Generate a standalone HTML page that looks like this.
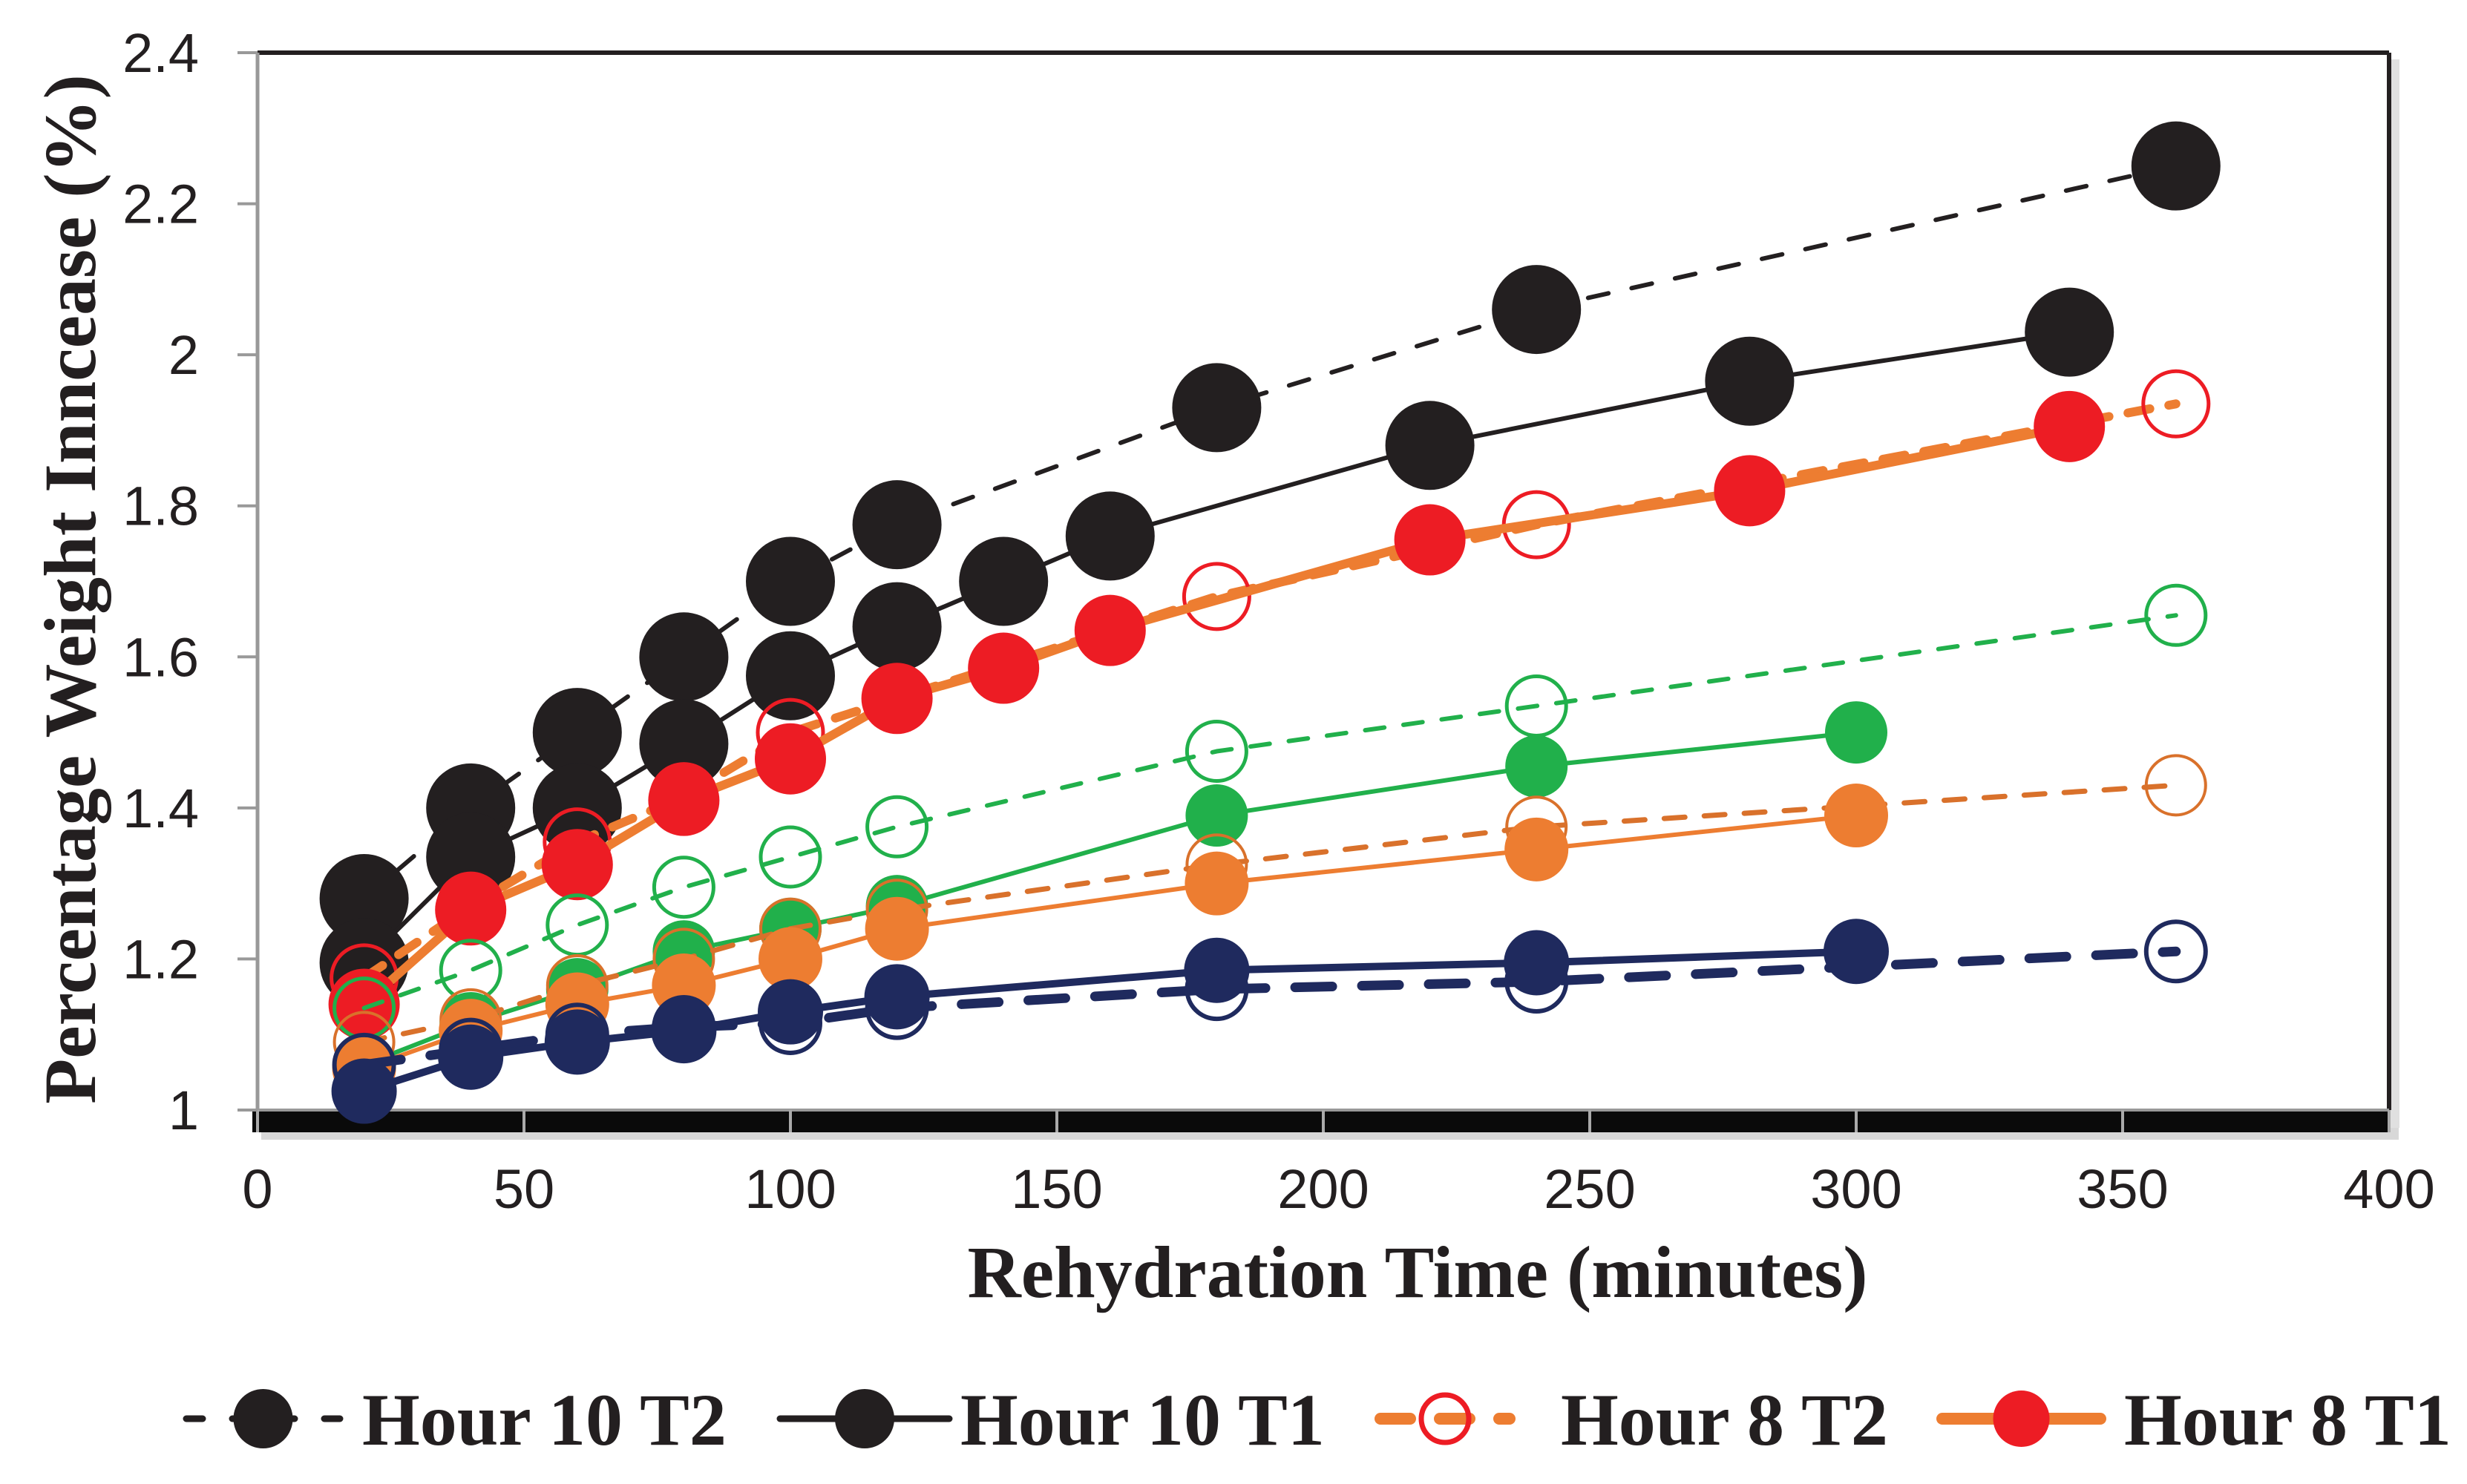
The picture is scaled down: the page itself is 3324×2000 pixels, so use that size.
<!DOCTYPE html>
<html><head><meta charset="utf-8">
<style>
html,body{margin:0;padding:0;background:#fff;}
svg{display:block;}
.tk{font-family:"Liberation Sans Narrow","Liberation Sans",sans-serif;font-size:74px;fill:#231f20;}
.ttl{font-family:"Liberation Serif",serif;font-weight:bold;font-size:100px;fill:#231f20;}
</style></head>
<body>
<svg id="chart" width="3324" height="2000" viewBox="0 0 3324 2000" xmlns="http://www.w3.org/2000/svg">
<rect x="0" y="0" width="3324" height="2000" fill="#fff"/>
<g id="frame">
  <rect x="352" y="1496" width="2880" height="40" fill="#d8d8d8"/>
  <rect x="340" y="1496" width="2880" height="30" fill="#0a0a0a"/>
  <rect x="3219" y="80" width="14" height="1440" fill="#e0e0e0"/>
  <rect x="347" y="71" width="2872" height="1425" fill="#fff" stroke="none"/>
  <line x1="347" y1="71" x2="3219" y2="71" stroke="#231f20" stroke-width="6"/>
  <line x1="3219" y1="71" x2="3219" y2="1496" stroke="#231f20" stroke-width="6"/>
  <line x1="347" y1="71" x2="347" y2="1496" stroke="#999" stroke-width="5"/>
  <line x1="347" y1="1496" x2="3219" y2="1496" stroke="#999" stroke-width="4"/>
</g>
<g id="axes"></g>
<g id="series"></g>
<text class="ttl" x="1910" y="1748" text-anchor="middle">Rehydration Time (minutes)</text>
<text class="ttl" transform="translate(128,794) rotate(-90)" text-anchor="middle">Percentage Weight Inncease (%)</text>
<g id="legend"></g>
</svg>
<script>
const xTicks = [0,50,100,150,200,250,300,350,400];
const yTicks = [1,1.2,1.4,1.6,1.8,2,2.2,2.4];
const yTickLabels = ["1","1.2","1.4","1.6","1.8","2","2.2","2.4"];

const h10t2X = [20,40,60,80,100,120,180,240,360];
const h10t2Y = [1.28,1.40,1.50,1.60,1.70,1.775,1.93,2.06,2.25];
const h10t1X = [20,40,60,80,100,120,140,160,220,280,340];
const h10t1Y = [1.195,1.335,1.40,1.485,1.575,1.64,1.70,1.76,1.88,1.965,2.03];
const h8t2X = [20,40,60,80,100,120,180,240,360];
const h8t2Y = [1.175,1.27,1.355,1.415,1.50,1.545,1.68,1.775,1.935];
const h8t1X = [20,40,60,80,100,120,140,160,220,280,340];
const h8t1Y = [1.14,1.265,1.325,1.41,1.465,1.545,1.585,1.635,1.755,1.82,1.905];
const gT2X = [20,40,60,80,100,120,180,240,360];
const gT2Y = [1.135,1.185,1.245,1.295,1.335,1.375,1.475,1.535,1.655];
const gT1X = [20,40,60,80,100,120,180,240,300];
const gT1Y = [1.06,1.115,1.16,1.21,1.24,1.27,1.39,1.455,1.50];
const oT2X = [20,40,60,80,100,120,180,240,360];
const oT2Y = [1.09,1.12,1.165,1.20,1.24,1.265,1.325,1.375,1.43];
const oT1X = [20,40,60,80,100,120,180,240,300];
const oT1Y = [1.055,1.105,1.14,1.165,1.20,1.24,1.30,1.345,1.39];
const nT2X = [20,40,60,80,100,120,180,240,360];
const nT2Y = [1.06,1.08,1.10,1.11,1.115,1.135,1.16,1.17,1.21];
const nT1X = [20,40,60,80,100,120,180,240,300];
const nT1Y = [1.025,1.07,1.09,1.105,1.13,1.15,1.185,1.195,1.21];

const NS="http://www.w3.org/2000/svg";
function X(v){return 347+(v-0)/400*2872;}
function Y(v){return 1496-(v-1)/1.4*1425;}
function mk(tag,attrs,parent){const e=document.createElementNS(NS,tag);for(const k in attrs)e.setAttribute(k,attrs[k]);parent.appendChild(e);return e;}

const axes=document.getElementById('axes');
xTicks.forEach(t=>{
  const l=mk('line',{x1:X(t),y1:1496,x2:X(t),y2:1526,stroke:'#aaa','stroke-width':4},axes);
  
  
  const tx=mk('text',{x:X(t),y:1628,'text-anchor':'middle',class:'tk'},axes);
  tx.textContent=t;
  
  
});
yTicks.forEach((t,i)=>{
  const l=mk('line',{x1:320,y1:Y(t),x2:347,y2:Y(t),stroke:'#999','stroke-width':4},axes);
  
  
  const tx=mk('text',{x:268,y:Y(t)+26,'text-anchor':'end',class:'tk'},axes);
  tx.textContent=yTickLabels[i];
  
  
});

const seriesG=document.getElementById('series');
function drawSeries(name,xs,ys,line,lw,dash,mfill,mstroke,r,msw){
  const g=mk('g',{},seriesG);
  
  
  const pts=xs.map((x,i)=>X(x)+','+Y(ys[i])).join(' ');
  const pl=mk('polyline',{points:pts,fill:'none',stroke:line,'stroke-width':lw,'stroke-dasharray':dash,'stroke-linejoin':'round','stroke-linecap':'round'},g);
  
  
  xs.forEach((x,i)=>{
    const c=mk('circle',{cx:X(x),cy:Y(ys[i]),r:r,fill:mfill,stroke:mstroke,'stroke-width':msw},g);
    
    
  });
}
drawSeries('hour-10-t2',h10t2X,h10t2Y,'#231f20',6,'28 32','#231f20','none',60,0);
drawSeries('hour-10-t1',h10t1X,h10t1Y,'#231f20',6,'none','#231f20','none',60,0);
drawSeries('hour-8-t2',h8t2X,h8t2Y,'#ed7d31',12,'30 26','none','#ed1c24',44,5);
drawSeries('hour-8-t1',h8t1X,h8t1Y,'#ed7d31',12,'none','#ed1c24','none',48,0);
drawSeries('green-t2',gT2X,gT2Y,'#21b04b',6,'26 26','none','#21b04b',40,5);
drawSeries('green-t1',gT1X,gT1Y,'#21b04b',6,'none','#21b04b','none',42,0);
drawSeries('orange-t2',oT2X,oT2Y,'#d9712b',7,'28 26','none','#d9712b',40,4);
drawSeries('orange-t1',oT1X,oT1Y,'#ed7d31',6,'none','#ed7d31','none',43,0);
drawSeries('navy-t2',nT2X,nT2Y,'#1f2a5e',13,'50 40','none','#1f2a5e',40,6);
drawSeries('navy-t1',nT1X,nT1Y,'#1f2a5e',10,'none','#1f2a5e','none',44,0);

const legendLabels=["Hour 10 T2","Hour 10 T1","Hour 8 T2","Hour 8 T1"];
const leg=document.getElementById('legend');
const ly=1912;
function legItem(name,x1,x2,tx,label,line,lw,dash,fill,stroke,r,sw){
  const g=mk('g',{},leg);
  
  
  mk('line',{x1:x1,y1:ly,x2:x2,y2:ly,stroke:line,'stroke-width':lw,'stroke-dasharray':dash,'stroke-linecap':'round'},g);
  mk('circle',{cx:(x1+x2)/2,cy:ly,r:r,fill:fill,stroke:stroke,'stroke-width':sw},g);
  const t=mk('text',{x:tx,y:ly+35,class:'ttl'},g);
  t.textContent=label;
}
legItem('legend-hour-10-t2',251,458,488,legendLabels[0],'#231f20',9,'22 40','#231f20','none',40,0);
legItem('legend-hour-10-t1',1051,1279,1294,legendLabels[1],'#231f20',9,'none','#231f20','none',40,0);
legItem('legend-hour-8-t2',1860,2034,2103,legendLabels[2],'#ed7d31',16,'40 40','none','#ed1c24',32,7);
legItem('legend-hour-8-t1',2617,2830,2862,legendLabels[3],'#ed7d31',16,'none','#ed1c24','none',38,0);
</script>
</body></html>
